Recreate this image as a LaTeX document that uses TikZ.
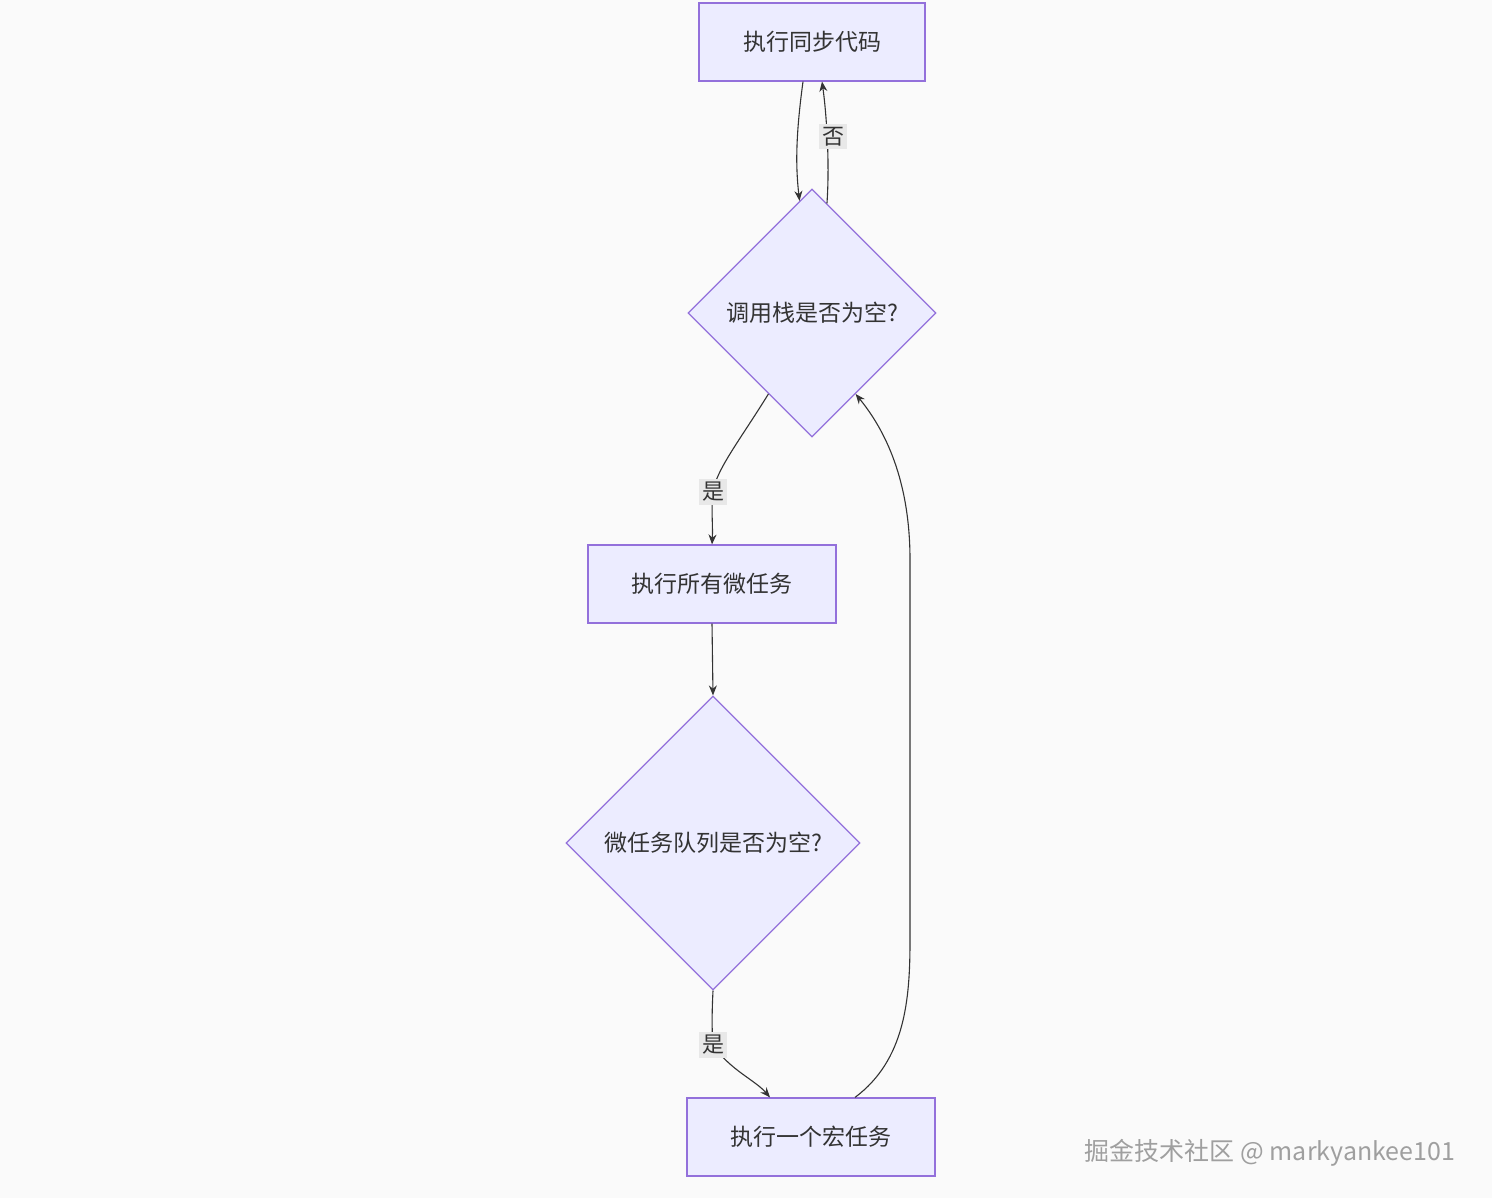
\documentclass[tikz,border=0pt]{standalone}
\usepackage{fontspec}
\setmainfont{Noto Sans CJK SC}
\usetikzlibrary{shapes.geometric,calc,arrows.meta}
\definecolor{nodefill}{HTML}{ECECFF}
\definecolor{nodeline}{HTML}{9370DB}
\definecolor{bgcol}{HTML}{FAFAFA}
\definecolor{lblfill}{HTML}{E8E8E8}
\tikzset{
  box/.style={draw=nodeline,fill=nodefill,line width=0.6pt,minimum width=124pt,minimum height=39pt,inner sep=0pt,font=\fontsize{11.5}{14}\selectfont,text=black!80},
  decide/.style={diamond,draw=nodeline,fill=nodefill,line width=0.6pt,inner sep=0pt,font=\fontsize{11.5}{14}\selectfont,text=black!80},
  flow/.style={draw=black!80,line width=0.55pt,-{Stealth[length=5pt,width=4pt]}},
  lbl/.style={fill=lblfill,inner sep=1.5pt,font=\fontsize{11}{13}\selectfont,text=black!80}
}
\begin{document}
\begin{tikzpicture}[x=0.5pt,y=-0.5pt]
  % canvas
  \fill[bgcol] (0,0) rectangle (1492,1198);
  \useasboundingbox (0,0) rectangle (1492,1198);

  % nodes
  \node[box,minimum width=113pt] (sync) at (812,42) {执行同步代码};
  \node[decide,minimum width=124pt,minimum height=124pt] (stack) at (812,313) {调用栈是否为空?};
  \node[box] (micro) at (712,584) {执行所有微任务};
  \node[decide,minimum width=147pt,minimum height=147pt] (queue) at (713,843) {微任务队列是否为空?};
  \node[box] (macro) at (811,1137) {执行一个宏任务};

  % connectors
  \draw[flow] ($(sync.south)+(-9,0)$) .. controls (795,140) and (796,170) .. ($(stack.north)!0.1!(stack.west)$);
  \draw[flow] ($(stack.north)!0.12!(stack.east)$) .. controls (830,160) and (826,110) .. ($(sync.south)+(10,0)$)
    node[lbl,pos=0.5,xshift=3pt] (no) {否};
  \draw[flow] ($(stack.south)!0.35!(stack.west)$) .. controls (740,440) and (716,470) .. (713,492)
    node[lbl] (yes1) {是} .. controls (711,510) and (713,525) .. (micro.north);
  \draw[flow] (micro.south) -- (queue.north);
  \draw[flow] (queue.south) .. controls (711,1030) and (713,1040) .. (713,1045)
    node[lbl] (yes2) {是} .. controls (730,1070) and (755,1080) .. ($(macro.north)+(-41,0)$);
  \draw[flow] ($(macro.north)+(44,0)$) .. controls (905,1060) and (910,1000) .. (910,940)
    -- (910,560) .. controls (910,480) and (885,430) .. ($(stack.south)!0.35!(stack.east)$);

  % watermark
  \node[anchor=east,text=gray!75,font=\fontsize{12.5}{15}\selectfont] (mark) at (1462,1153) {掘金技术社区 @ markyankee101};
\end{tikzpicture}
\end{document}
